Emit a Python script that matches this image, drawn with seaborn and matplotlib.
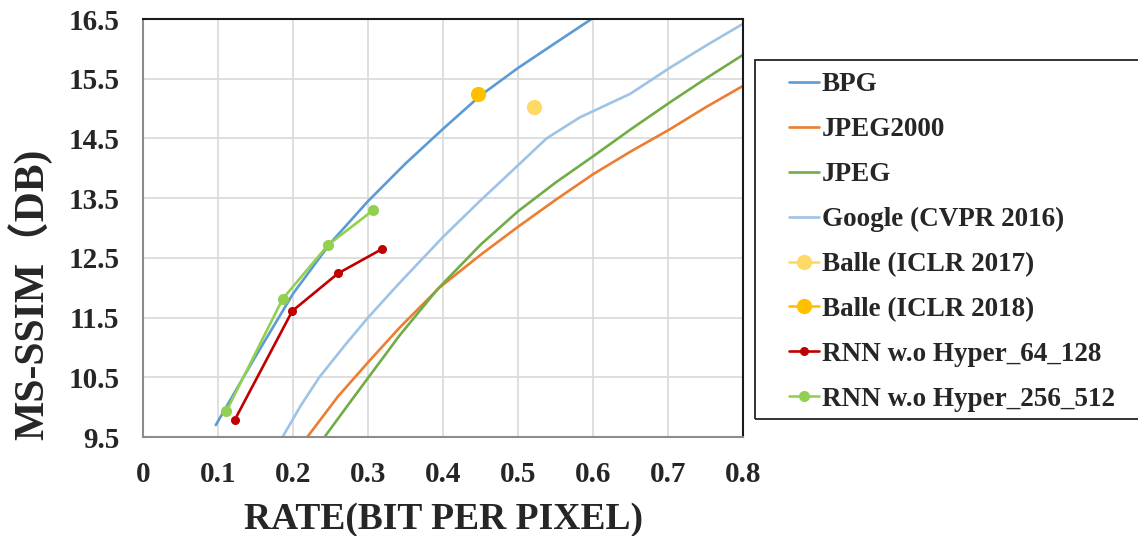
import matplotlib
matplotlib.use("Agg")
from matplotlib import pyplot as plt
from matplotlib.patches import Rectangle
import seaborn as sns

# data
bpgX = [0.097, 0.12, 0.15, 0.2, 0.25, 0.3, 0.35, 0.4, 0.45, 0.5, 0.55, 0.598]
bpgY = [9.7, 10.2, 10.85, 11.9, 12.75, 13.45, 14.08, 14.66, 15.22, 15.68, 16.1, 16.5]
j2kX = [0.219, 0.26, 0.3, 0.342, 0.395, 0.45, 0.5, 0.55, 0.6, 0.65, 0.702, 0.75, 0.8]
j2kY = [9.5, 10.18, 10.75, 11.33, 12.0, 12.55, 13.02, 13.47, 13.9, 14.28, 14.65, 15.02, 15.38]
jpegX = [0.242, 0.28, 0.342, 0.393, 0.45, 0.5, 0.55, 0.6, 0.65, 0.702, 0.75, 0.8]
jpegY = [9.5, 10.15, 11.2, 11.98, 12.72, 13.28, 13.76, 14.2, 14.65, 15.1, 15.5, 15.9]
googleX = [0.186, 0.21, 0.235, 0.27, 0.3, 0.342, 0.4, 0.449, 0.5, 0.538, 0.582, 0.65, 0.702, 0.75, 0.8]
googleY = [9.5, 10.02, 10.5, 11.05, 11.5, 12.08, 12.85, 13.45, 14.05, 14.5, 14.85, 15.25, 15.68, 16.05, 16.42]
balle17X = [0.521]
balle17Y = [15.03]
balle18X = [0.447]
balle18Y = [15.25]
rnn64X = [0.122, 0.199, 0.26, 0.319]
rnn64Y = [9.78, 11.61, 12.24, 12.65]
rnn256X = [0.111, 0.186, 0.247, 0.307]
rnn256Y = [9.93, 11.81, 12.72, 13.3]

xTicks = [0, 0.1, 0.2, 0.3, 0.4, 0.5, 0.6, 0.7, 0.8]
xTickLabels = ["0", "0.1", "0.2", "0.3", "0.4", "0.5", "0.6", "0.7", "0.8"]
yTicks = [9.5, 10.5, 11.5, 12.5, 13.5, 14.5, 15.5, 16.5]
yTickLabels = ["9.5", "10.5", "11.5", "12.5", "13.5", "14.5", "15.5", "16.5"]

sns.set_style("white")
plt.rcParams['font.family'] = ['Liberation Serif', 'Noto Sans CJK SC', 'DejaVu Sans']
plt.rcParams['font.weight'] = 'bold'

fig = plt.figure(figsize=(11.38, 5.36), dpi=100)
ax = fig.add_axes([0.1257, 0.1847, 0.5272, 0.7798])

lw = 1.9
sns.lineplot(x=bpgX, y=bpgY, color='#5B9BD5', lw=lw, label="BPG", estimator=None, sort=False, ax=ax)
sns.lineplot(x=j2kX, y=j2kY, color='#ED7D31', lw=lw, label="JPEG2000", estimator=None, sort=False, ax=ax)
sns.lineplot(x=jpegX, y=jpegY, color='#70AD47', lw=lw, label="JPEG", estimator=None, sort=False, ax=ax)
sns.lineplot(x=googleX, y=googleY, color='#9DC3E6', lw=lw, label="Google (CVPR 2016)", estimator=None, sort=False, ax=ax)
sns.lineplot(x=balle17X, y=balle17Y, color='#FFD966', lw=lw, marker='o', ms=11, mec='none', label="Balle (ICLR 2017)", estimator=None, ax=ax)
sns.lineplot(x=balle18X, y=balle18Y, color='#FFC000', lw=lw, marker='o', ms=11, mec='none', label="Balle (ICLR 2018)", estimator=None, ax=ax)
sns.lineplot(x=rnn64X, y=rnn64Y, color='#C00000', lw=lw, marker='o', ms=6.5, mec='none', label="RNN w.o Hyper_64_128", estimator=None, sort=False, ax=ax)
sns.lineplot(x=rnn256X, y=rnn256Y, color='#92D050', lw=lw, marker='o', ms=8, mec='none', label="RNN w.o Hyper_256_512", estimator=None, sort=False, ax=ax)

ax.set_xlim(0, 0.8)
ax.set_ylim(9.5, 16.5)
ax.set_xticks(xTicks)
ax.set_xticklabels(xTickLabels)
ax.set_yticks(yTicks)
ax.set_yticklabels(yTickLabels)
ax.tick_params(axis='both', length=0, labelsize=21)
ax.tick_params(axis='x', pad=17)
ax.tick_params(axis='y', pad=17)
ax.grid(True, color='#D9D9D9', lw=1.2)
ax.set_axisbelow(True)
for side in ['left', 'bottom']:
    ax.spines[side].set_color('#8C8C8C')
    ax.spines[side].set_linewidth(1.5)
for side in ['top', 'right']:
    ax.spines[side].set_color('#1A1A1A')
    ax.spines[side].set_linewidth(1.5)

ax.set_xlabel("RATE(BIT PER PIXEL)", fontsize=27, fontweight='bold', labelpad=10)
ax.set_ylabel("MS-SSIM（DB)", fontsize=30, fontweight='bold')
ax.yaxis.set_label_coords(-0.152, 0.342)

# legend frame as in the reference (runs off the right edge)
fig.patches.append(Rectangle((755 / 1138, 1 - 419 / 536), 400 / 1138, 359 / 536,
                             transform=fig.transFigure, fill=False, ec='#222222', lw=1.3))
leg = ax.legend(loc='center left', bbox_to_anchor=(789 / 1138, 1 - 242 / 536), bbox_transform=fig.transFigure,
                fontsize=19.5, frameon=False, handlelength=1.1, handletextpad=0.12,
                labelspacing=0.735, borderpad=0, borderaxespad=0)
for t in leg.get_texts():
    t.set_fontweight('bold')

plt.savefig("out.png", dpi=100)
